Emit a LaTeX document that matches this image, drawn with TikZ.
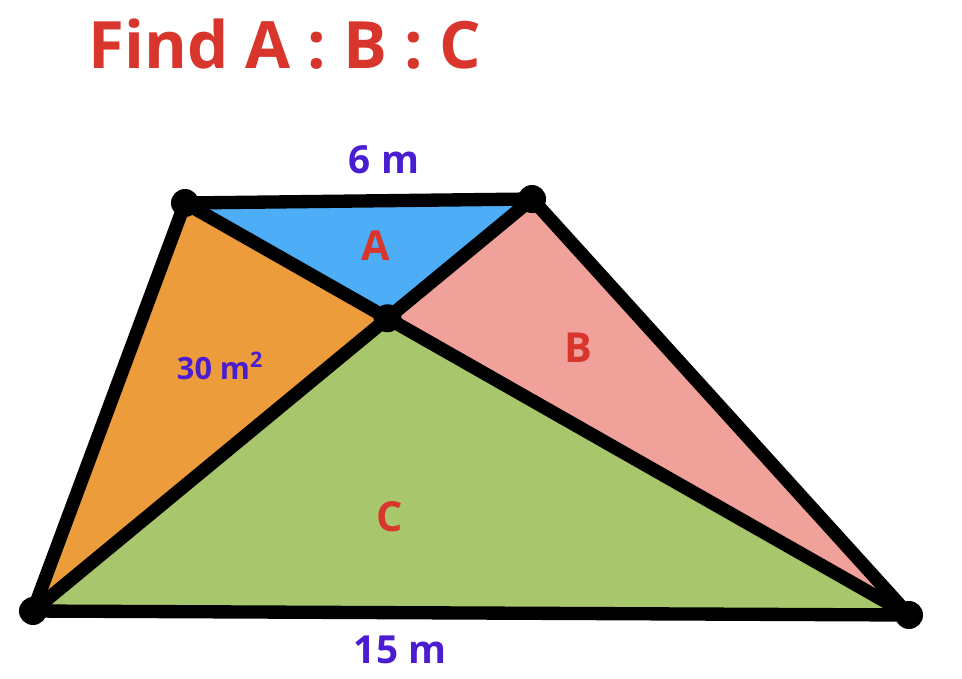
\documentclass[tikz,border=0pt]{standalone}
\usepackage{fontspec}
\setmainfont{Open Sans}
\definecolor{titlered}{HTML}{D8362D}
\definecolor{sizeblue}{HTML}{4A1ED0}
\definecolor{fillA}{HTML}{4DADF6}
\definecolor{fillB}{HTML}{EFA19A}
\definecolor{fillC}{HTML}{A8C66C}
\definecolor{fillD}{HTML}{EC9C3A}
\newcommand\Region[4]{%
    \fill[#1] (#2) -- (#3) -- (#4) -- cycle;
}
\tikzset{
    edge/.style={line width=10pt,line join=round},
    areaname/.style={text=titlered,font=\bfseries\fontsize{31}{31}\selectfont},
    sizename/.style={text=sizeblue,font=\bfseries\fontsize{29}{29}\selectfont},
}

\begin{document}
\begin{tikzpicture}[x=0.75pt,y=-0.75pt]
    \useasboundingbox (0,0) rectangle (962,678);
    \coordinate (TL) at (185,203);
    \coordinate (TR) at (532,199);
    \coordinate (BL) at (33,611);
    \coordinate (BR) at (909,615);
    \coordinate (O) at (intersection of TL--BR and TR--BL);
    % regions
    \Region{fillA}{TL}{TR}{O}
    \Region{fillB}{TR}{BR}{O}
    \Region{fillC}{BR}{BL}{O}
    \Region{fillD}{BL}{TL}{O}
    % edges and diagonals
    \draw[edge] (TL) -- (TR) -- (BR) -- (BL) -- cycle;
    \draw[edge] (TL) -- (BR);
    \draw[edge] (TR) -- (BL);
    \foreach \p in {TL,TR,BL,BR,O}
        \fill (\p) circle[radius=14];
    % texts
    \node[text=titlered,font=\bfseries\fontsize{49}{49}\selectfont] (title) at (285,44) {Find A : B : C};
    \node[sizename] (top) at (384,160) {6 m};
    \node[sizename] (bottom) at (400,650) {15 m};
    \node[sizename,font=\bfseries\fontsize{23}{23}\selectfont] (known) at (220,366) {30 m\textsuperscript{2}};
    \node[areaname] (labA) at (376,246) {A};
    \node[areaname] (labB) at (578,348) {B};
    \node[areaname] (labC) at (390,517) {C};
\end{tikzpicture}
\end{document}
